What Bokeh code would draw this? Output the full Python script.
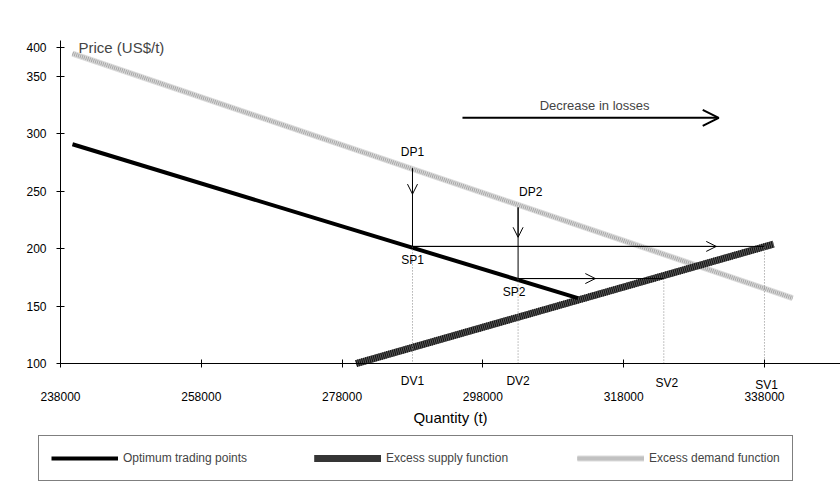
from bokeh.plotting import figure
from bokeh.models import (Range1d, FixedTicker, Label, Arrow, OpenHead, Legend,
                          LegendItem)
from bokeh.embed import file_html
from bokeh.resources import INLINE

# ---------------- data ----------------
qty_demand = [239700, 342000]
price_demand = [370, 157]
qty_supply = [280000, 339300]
price_supply = [100, 204]
qty_opt = [239700, 311500]
price_opt = [291, 157]

dv_qty = [288000, 303000]        # DV1, DV2
dp_price = [270, 236]            # DP1, DP2
sp_price = [202, 174]            # SP1, SP2
sv_qty = [338000, 323700]        # SV1, SV2
dv_names = ["DV1", "DV2"]
dp_names = ["DP1", "DP2"]
sp_names = ["SP1", "SP2"]
sv_names = ["SV1", "SV2"]

x_ticks = [238000, 258000, 278000, 298000, 318000, 338000]
x_tick_labels = ["238000", "258000", "278000", "298000", "318000", "338000"]
y_ticks = [100, 150, 200, 250, 300, 350, 375]
y_tick_labels = ["100", "150", "200", "250", "300", "350", "400"]

loss_arrow_qty = [295100, 331500]
loss_arrow_price = 314

FONT = "Liberation Sans"

X0, X1 = 238000, 348800   # axis extent
Y0, Y1 = 100, 381.5

p = figure(width=840, height=487, output_backend="svg", toolbar_location=None,
           x_range=Range1d(229477, 348800), y_range=Range1d(-8.0, 416.2),
           min_border_left=0, min_border_right=0, min_border_top=0,
           min_border_bottom=0)
p.outline_line_color = None
p.xgrid.visible = False
p.ygrid.visible = False
p.background_fill_color = "white"
p.border_fill_color = "white"

for ax in (p.xaxis[0], p.yaxis[0]):
    ax.axis_line_color = "black"
    ax.axis_line_width = 1
    ax.major_tick_in = 4
    ax.major_tick_out = 4
    ax.major_tick_line_color = "black"
    ax.minor_tick_line_color = None
    ax.major_label_text_font = FONT
    ax.major_label_text_font_size = "12px"
    ax.major_label_text_color = "black"

p.xaxis.fixed_location = Y0
p.xaxis.bounds = (X0, X1)
p.xaxis.ticker = FixedTicker(ticks=x_ticks)
p.xaxis.major_label_overrides = {t: l for t, l in zip(x_ticks, x_tick_labels)}
p.xaxis.major_label_standoff = 24
p.xaxis.axis_label = "Quantity (t)"
p.xaxis.axis_label_text_font = FONT
p.xaxis.axis_label_text_font_size = "15px"
p.xaxis.axis_label_text_font_style = "normal"
p.xaxis.axis_label_text_color = "black"
p.xaxis.axis_label_standoff = 5

p.yaxis.fixed_location = X0
p.yaxis.bounds = (Y0, Y1)
p.yaxis.ticker = FixedTicker(ticks=y_ticks)
p.yaxis.major_label_overrides = {t: l for t, l in zip(y_ticks, y_tick_labels)}
p.yaxis.major_label_standoff = 10

# ---------------- lines ----------------
r_dem_base = p.line(qty_demand, price_demand, line_color="#dcdcdc", line_width=6)
r_dem_hatch = p.line(qty_demand, price_demand, line_color="#a6a6a6", line_width=4,
                     line_dash="1 1")
r_sup_base = p.line(qty_supply, price_supply, line_color="#5a5a5a", line_width=7)
r_sup_hatch = p.line(qty_supply, price_supply, line_color="#111111", line_width=7,
                     line_dash="1 1")
r_opt = p.line(qty_opt, price_opt, line_color="black", line_width=4)

# dotted drops to the axis
p.segment(x0=dv_qty, y0=sp_price, x1=dv_qty, y1=[Y0, Y0],
          line_color="#888888", line_width=1, line_dash="1 2")
p.segment(x0=sv_qty, y0=sp_price, x1=sv_qty, y1=[Y0, Y0],
          line_color="#888888", line_width=1, line_dash="1 2")

# vertical DP -> SP lines and horizontal SP -> SV lines
p.segment(x0=dv_qty, y0=dp_price, x1=dv_qty, y1=sp_price, line_color="black", line_width=1)
p.segment(x0=dv_qty, y0=sp_price, x1=sv_qty, y1=sp_price, line_color="black", line_width=1)

v_head_frac = [0.33, 0.42]
h_head_frac = [0.863, 0.53]
for i in range(2):
    p.add_layout(Arrow(end=OpenHead(size=10, line_width=1, line_color="black"),
                       x_start=dv_qty[i], y_start=dp_price[i], x_end=dv_qty[i],
                       y_end=dp_price[i] + (sp_price[i] - dp_price[i]) * v_head_frac[i],
                       line_color="black", line_width=1))
    p.add_layout(Arrow(end=OpenHead(size=10, line_width=1, line_color="black"),
                       x_start=dv_qty[i], y_start=sp_price[i],
                       x_end=dv_qty[i] + (sv_qty[i] - dv_qty[i]) * h_head_frac[i],
                       y_end=sp_price[i], line_color="black", line_width=1))

# "Decrease in losses" arrow
p.add_layout(Arrow(end=OpenHead(size=16, line_width=2, line_color="black"),
                   x_start=loss_arrow_qty[0], y_start=loss_arrow_price,
                   x_end=loss_arrow_qty[1], y_end=loss_arrow_price,
                   line_color="black", line_width=2))
p.add_layout(Label(x=(loss_arrow_qty[0] + loss_arrow_qty[1]) / 2, y=loss_arrow_price,
                   x_offset=4, y_offset=12, text="Decrease in losses", text_font=FONT,
                   text_font_size="13px", text_align="center", text_baseline="middle"))

# ---------------- labels ----------------
def lab(x, y, text, xo=0, yo=0, align="center"):
    p.add_layout(Label(x=x, y=y, text=text, x_offset=xo, y_offset=yo,
                       text_font=FONT, text_font_size="12px", text_align=align,
                       text_baseline="middle", text_color="black"))

lab(dv_qty[0], dp_price[0], dp_names[0], 0, 16)
lab(dv_qty[1], dp_price[1], dp_names[1], 1, 15, "left")
lab(dv_qty[0], sp_price[0], sp_names[0], 0, -14)
lab(dv_qty[1], sp_price[1], sp_names[1], -4, -13)
lab(dv_qty[0], Y0, dv_names[0], 0, -17)
lab(dv_qty[1], Y0, dv_names[1], 0, -17)
lab(sv_qty[1], Y0, sv_names[1], 3, -19)
lab(sv_qty[0], Y0, sv_names[0], 2, -21)

p.add_layout(Label(x=240560, y=375, text="Price (US$/t)", text_font=FONT,
                   text_font_size="15px", text_align="left", text_baseline="middle"))

# ---------------- legend ----------------
legend = Legend(items=[
    LegendItem(label="Optimum trading points", renderers=[r_opt]),
    LegendItem(label="Excess supply function", renderers=[r_sup_base, r_sup_hatch]),
    LegendItem(label="Excess demand function", renderers=[r_dem_base, r_dem_hatch]),
], orientation="horizontal", location=(38, 6), glyph_width=67, glyph_height=20,
    label_standoff=5, label_width=128, spacing=63, padding=12, margin=0,
    border_line_color="black", border_line_width=1,
    label_text_font=FONT, label_text_font_size="12px",
    background_fill_color="white", background_fill_alpha=1)
p.add_layout(legend, "center")

open("out.html", "w").write(file_html(p, INLINE))
